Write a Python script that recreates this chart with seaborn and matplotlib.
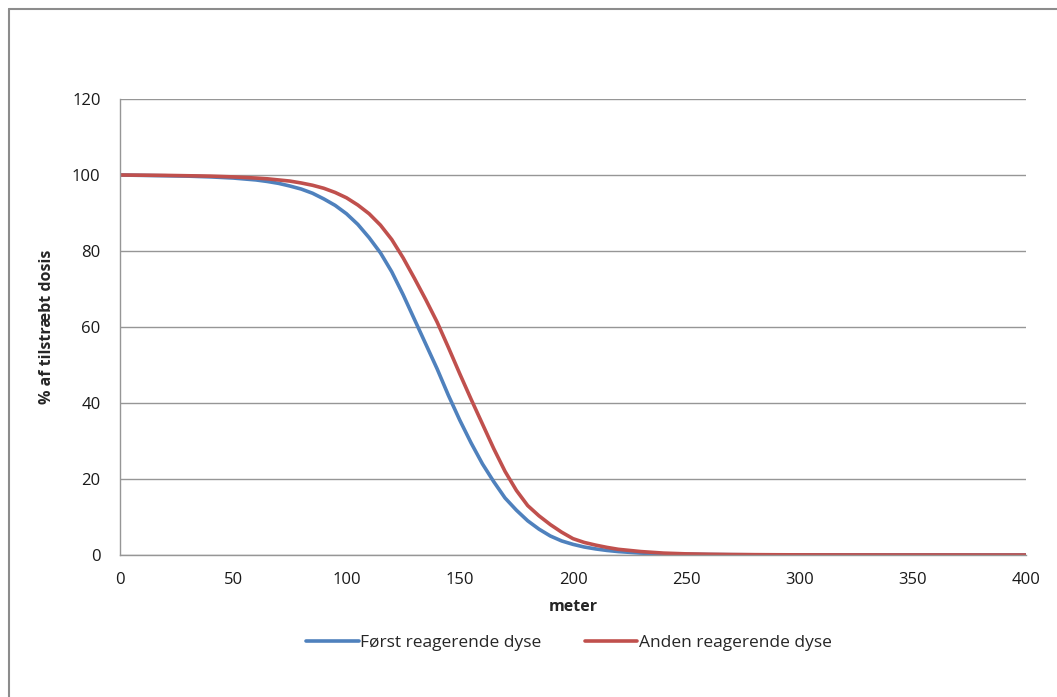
import matplotlib
matplotlib.use("Agg")
import matplotlib.pyplot as plt
from matplotlib.lines import Line2D
import seaborn as sns
import pandas as pd

meter = [0, 10, 20, 30, 40, 50, 60, 65, 70, 75, 80, 85, 90, 95, 100, 105, 110,
         115, 120, 125, 130, 135, 140, 145, 150, 155, 160, 165, 170, 175, 180,
         185, 190, 195, 200, 205, 210, 215, 220, 230, 240, 250, 260, 270, 280,
         290, 300, 310, 320, 330, 340, 350, 360, 370, 380, 390, 400]
foerst = [100, 99.9, 99.8, 99.7, 99.5, 99.2, 98.7, 98.3, 97.8, 97.1, 96.3, 95.2,
          93.7, 92.0, 89.8, 87.0, 83.5, 79.5, 74.5, 68.5, 62.0, 55.5, 49.0,
          42.0, 35.5, 29.5, 24.0, 19.3, 15.0, 11.8, 9.0, 6.8, 5.0, 3.7, 2.8,
          2.1, 1.6, 1.2, 0.9, 0.5, 0.3, 0.2, 0.12, 0.08, 0.05, 0.04, 0.03,
          0.02, 0.02, 0.01, 0.01, 0.01, 0.01, 0.0, 0.0, 0.0, 0.0]
anden = [100, 99.95, 99.9, 99.8, 99.7, 99.5, 99.2, 99.0, 98.7, 98.4, 97.9, 97.3,
         96.5, 95.4, 94.0, 92.1, 89.8, 86.8, 83.0, 78.2, 72.8, 67.2, 61.3,
         54.6, 47.7, 41.0, 34.5, 28.0, 22.0, 17.0, 13.0, 10.3, 8.0, 6.0, 4.3,
         3.3, 2.6, 2.0, 1.5, 0.9, 0.5, 0.3, 0.2, 0.13, 0.09, 0.06, 0.04,
         0.03, 0.02, 0.02, 0.01, 0.01, 0.01, 0.01, 0.0, 0.0, 0.0]
series_names = ["Først reagerende dyse", "Anden reagerende dyse"]
colors = ["#4F81BD", "#C0504D"]

df = pd.concat([
    pd.DataFrame({"meter": meter, "pct": foerst, "serie": series_names[0]}),
    pd.DataFrame({"meter": meter, "pct": anden, "serie": series_names[1]}),
])

sns.set_theme(style="white")
plt.rcParams["font.family"] = ["Open Sans", "DejaVu Sans"]

fig = plt.figure(figsize=(10.57, 6.97), dpi=100)
ax = fig.add_axes([120/1057, 1-555/697, (1026-120)/1057, (555-99)/697])

sns.lineplot(data=df, x="meter", y="pct", hue="serie", palette=colors,
             linewidth=2.6, ax=ax, legend=False)
for ln in ax.lines:
    ln.set_solid_joinstyle("round")
    ln.set_solid_capstyle("round")

ax.set_xlim(0, 400)
ax.set_ylim(0, 120)
ax.set_xticks(range(0, 401, 50))
ax.set_yticks(range(0, 121, 20))
ax.yaxis.grid(True, color="#969696", linewidth=1.0)
ax.xaxis.grid(False)
ax.set_axisbelow(True)
for s in ["top", "right"]:
    ax.spines[s].set_visible(False)
for s in ["left", "bottom"]:
    ax.spines[s].set_color("#969696")
    ax.spines[s].set_linewidth(1.0)
ax.tick_params(axis="both", length=0, labelsize=12, colors="#1a1a1a")
ax.tick_params(axis="x", pad=12)
ax.tick_params(axis="y", pad=14)

ax.set_xlabel("meter", fontsize=11.5, fontweight="bold", labelpad=8)
ax.set_ylabel("% af tilstræbt dosis", fontsize=11.5, fontweight="bold", labelpad=12)

handles = [Line2D([0], [0], color=c, linewidth=2.6) for c in colors]
fig.legend(handles, series_names, loc="center", bbox_to_anchor=(569/1057, 1-643/697),
           ncol=2, frameon=False, fontsize=12.5, handlelength=3.0, handletextpad=0.1,
           columnspacing=2.5)

fig.add_artist(Line2D([9/1057, 9/1057], [0, 1-9/697], color="#8c8c8c", linewidth=1.5,
                      transform=fig.transFigure))
fig.add_artist(Line2D([9/1057, 1], [1-9/697, 1-9/697], color="#8c8c8c", linewidth=1.5,
                      transform=fig.transFigure))

fig.savefig("out.png", dpi=100)
